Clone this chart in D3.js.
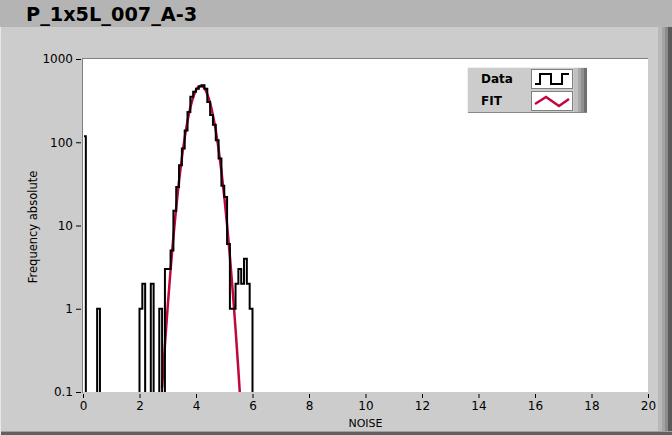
<!DOCTYPE html>
<html><head><meta charset="utf-8">
<script src="https://cdn.jsdelivr.net/npm/d3@7"></script>
<style>html,body{margin:0;padding:0;background:#cccccc;}svg{display:block;}</style>
</head><body>
<script>
// ---- data ----
const title = "P_1x5L_007_A-3";
const xLabel = "NOISE";
const yLabel = "Frequency absolute";
const xTicks = [0,2,4,6,8,10,12,14,16,18,20];
const yTicks = [0.1,1,10,100,1000];
const yTickLabels = ["0.1","1","10","100","1000"];
const binWidth = 0.1;
// histogram counts, bin i covers [i*binWidth, (i+1)*binWidth]
const dataCounts = [
 118,0,0,0,0,1,0,0,0,0,
 0,0,0,0,0,0,0,0,0,0,
 1,2,0,0,2,0,0,1,0,3,
 3,5,15,29,53,84,138,231,352,405,
 440,466,483,440,305,213,162,106,64,30,
 22,6,1,1,2,3,2,4,2,1,
 0
];
const fitX = [2.8,2.9,3.0,3.1,3.2,3.3,3.4,3.5,3.6,3.7,3.8,3.9,4.0,4.1,4.2,4.3,4.4,4.5,4.6,4.7,4.8,4.9,5.0,5.1,5.2,5.3,5.4,5.5,5.6];
const fitY = [0.113,0.366,1.085,2.94,7.29,16.5,34.3,65.1,113,180,261,347,422,470,478,445,379,296,211,138,82.1,44.8,22.4,10.2,4.27,1.63,0.572,0.183,0.054];
const legendNames = ["Data","FIT"];

// ---- layout ----
const W = 672, H = 435;
const svg = d3.select("body").append("svg").attr("width",W).attr("height",H);
const font = "'DejaVu Sans', Verdana, sans-serif";

// panel + title bar
svg.append("rect").attr("x",0).attr("y",0).attr("width",W).attr("height",H).attr("fill","#cccccc");
svg.append("rect").attr("x",0).attr("y",0).attr("width",W).attr("height",27).attr("fill","#b4b4b4");
// right bevel bands
const bands = [["#b8b8b8",658,4],["#a4a4a4",662,3],["#8c8c8c",665,3],["#5a5a5a",668,4]];
bands.forEach(b=>svg.append("rect").attr("x",b[1]).attr("y",27).attr("width",b[2]).attr("height",H-27).attr("fill",b[0]));
svg.append("rect").attr("x",0).attr("y",431).attr("width",W).attr("height",1).attr("fill","#a0a0a0");
svg.append("rect").attr("x",0).attr("y",432).attr("width",W).attr("height",3).attr("fill","#606060");
svg.append("rect").attr("x",0).attr("y",27).attr("width",1).attr("height",H-27).attr("fill","#e8e8e8");

svg.append("text").attr("x",26).attr("y",21).attr("font-family",font).attr("font-weight","bold")
  .attr("font-size",19.3).attr("fill","#000").text(title);

const x = d3.scaleLinear().domain([0,20]).range([83,648]);
const y = d3.scaleLog().domain([0.1,1000]).range([392,59]);

// plot area
svg.append("rect").attr("x",83).attr("y",59).attr("width",565).attr("height",333).attr("fill","#ffffff");
svg.append("line").attr("x1",82.5).attr("x2",82.5).attr("y1",58).attr("y2",393).attr("stroke","#808080");
svg.append("line").attr("x1",82).attr("x2",648).attr("y1",58.5).attr("y2",58.5).attr("stroke","#808080");

svg.append("clipPath").attr("id","clip").append("rect").attr("x",84).attr("y",59).attr("width",564).attr("height",333);

// axes
const yAxis = d3.axisLeft(y).tickValues(yTicks).tickFormat((d,i)=>yTickLabels[i]).tickSize(5).tickPadding(3);
const gy = svg.append("g").attr("transform","translate(81,0)").call(yAxis);
gy.select(".domain").remove();
gy.selectAll("text").attr("font-family",font).attr("font-size",12).attr("fill","#000");
gy.selectAll("line").attr("stroke","#000");

const xAxis = d3.axisBottom(x).tickValues(xTicks).tickFormat(d3.format("d")).tickSize(4).tickPadding(3);
const gx = svg.append("g").attr("transform","translate(0,394)").call(xAxis);
gx.select(".domain").remove();
gx.selectAll("text").attr("font-family",font).attr("font-size",12).attr("fill","#000");
gx.selectAll("line").attr("stroke","#000");

svg.append("text").attr("x",x(10)).attr("y",427).attr("text-anchor","middle")
  .attr("font-family",font).attr("font-size",11).attr("fill","#000").text(xLabel);
svg.append("text").attr("transform","translate(37,227) rotate(-90)").attr("text-anchor","middle")
  .attr("font-family",font).attr("font-size",11.5).attr("fill","#000").text(yLabel);

const plot = svg.append("g").attr("clip-path","url(#clip)");

// fit
const fitPts = fitX.map((v,i)=>[v,fitY[i]]);
plot.append("path").datum(fitPts)
  .attr("d", d3.line().x(d=>x(d[0])).y(d=>y(d[1])).curve(d3.curveMonotoneX))
  .attr("fill","none").attr("stroke","#c0083c").attr("stroke-width",2.5);

// histogram step line
const histPts = dataCounts.map((c,i)=>[i*binWidth, c]);
const yv = c => c>0 ? y(c) : 420;
plot.append("path").datum(histPts)
  .attr("d", d3.line().x(d=>x(d[0])).y(d=>yv(d[1])).curve(d3.curveStepAfter))
  .attr("fill","none").attr("stroke","#000").attr("stroke-width",2);

// legend
const lg = svg.append("g");
lg.append("rect").attr("x",468).attr("y",68).attr("width",106).attr("height",44).attr("fill","#cccccc");
lg.append("line").attr("x1",468).attr("x2",587).attr("y1",112.5).attr("y2",112.5).attr("stroke","#888");
lg.append("line").attr("x1",467.5).attr("x2",467.5).attr("y1",68).attr("y2",113).attr("stroke","#f0f0f0");
lg.append("line").attr("x1",468).attr("x2",587).attr("y1",67.5).attr("y2",67.5).attr("stroke","#f0f0f0");
[["#c0c0c0",574,4],["#a8a8a8",578,3],["#909090",581,3],["#707070",584,3]].forEach(b=>
  lg.append("rect").attr("x",b[1]).attr("y",68).attr("width",b[2]).attr("height",44).attr("fill",b[0]));
legendNames.forEach((n,i)=>{
  const yy = 69 + i*22;
  lg.append("text").attr("x",481).attr("y",yy+14).attr("font-family",font).attr("font-weight","bold")
    .attr("font-size",12).attr("fill","#000").text(n);
  lg.append("rect").attr("x",531.5).attr("y",yy+0.5).attr("width",41).attr("height",19)
    .attr("fill","#fff").attr("stroke","#808080");
});
// legend icons
lg.append("path").attr("d","M535,84 H540 V74 H551 V84 H562 V74 H569").attr("fill","none").attr("stroke","#000").attr("stroke-width",2);
lg.append("path").attr("d","M535,104 L546,97 L559,106 L569,99").attr("fill","none").attr("stroke","#c0083c").attr("stroke-width",2.5);
</script>
</body></html>
